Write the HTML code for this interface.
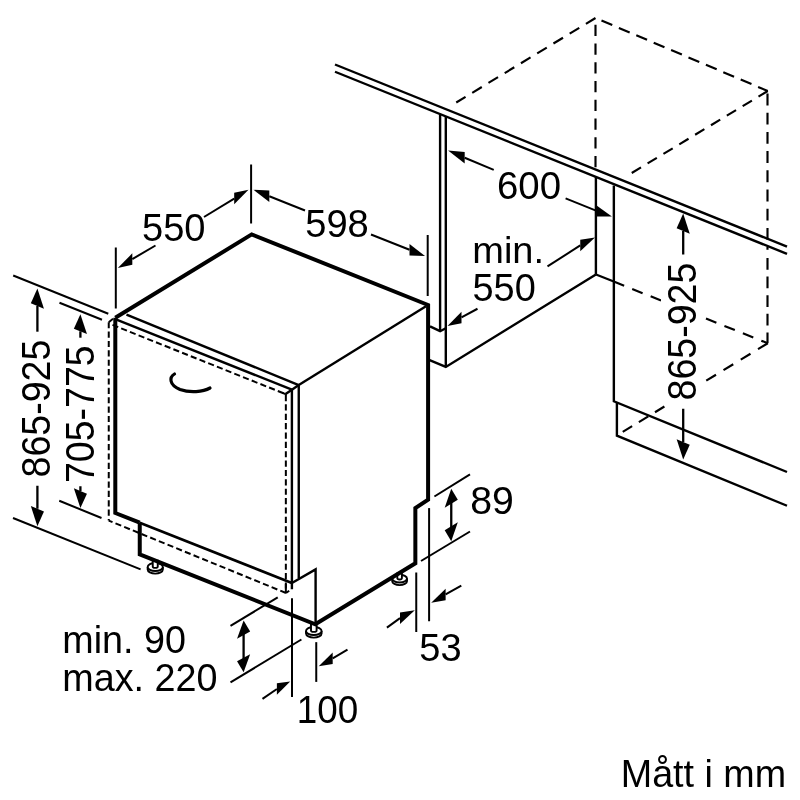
<!DOCTYPE html>
<html lang="sv"><head><meta charset="utf-8"><title>Mått i mm</title>
<style>
html,body{margin:0;padding:0;background:#fff;}
body{width:800px;height:800px;overflow:hidden;}
svg{display:block;will-change:transform;}
svg text{font-family:"Liberation Sans",sans-serif;fill:#000;stroke:none;}
</style></head><body>
<svg width="800" height="800" viewBox="0 0 800 800" stroke="#000" fill="none">
<rect x="0" y="0" width="800" height="800" fill="#fff" stroke="none"/>
<line x1="335" y1="64.5" x2="787" y2="246.6" stroke-width="2.4" stroke-linecap="butt"/>
<line x1="335" y1="71.75" x2="787" y2="253.9" stroke-width="2.4" stroke-linecap="butt"/>
<line x1="440.1" y1="114.5" x2="440.1" y2="331.2" stroke-width="2.4" stroke-linecap="butt"/>
<line x1="445.8" y1="117" x2="445.8" y2="366.9" stroke-width="2.4" stroke-linecap="butt"/>
<polyline points="430,326.4 440.1,331.2 445.8,328.2" fill="none" stroke-width="2.4" stroke-linejoin="miter"/>
<polyline points="429,359.8 445.8,366.9 595.9,274.5" fill="none" stroke-width="2.4" stroke-linejoin="miter"/>
<line x1="595.9" y1="177" x2="595.9" y2="274.5" stroke-width="2.4" stroke-linecap="butt"/>
<polyline points="613.85,185.5 613.85,401.25 787,472" fill="none" stroke-width="2.4" stroke-linejoin="miter"/>
<polyline points="616.9,402.5 616.9,435.6 787,505.75" fill="none" stroke-width="2.4" stroke-linejoin="miter"/>
<line x1="595.5" y1="18" x2="456.25" y2="102.5" stroke-width="2.15" stroke-dasharray="11.2 7.8" stroke-dashoffset="0"/>
<line x1="595.5" y1="18" x2="767.75" y2="91" stroke-width="2.15" stroke-dasharray="11.7 7.2" stroke-dashoffset="12.4"/>
<line x1="767.75" y1="91" x2="629.4" y2="174.4" stroke-width="2.15" stroke-dasharray="10.8 7.7" stroke-dashoffset="0"/>
<line x1="595.5" y1="18" x2="595.5" y2="169" stroke-width="2.15" stroke-dasharray="11.25 7.5" stroke-dashoffset="12"/>
<line x1="767.5" y1="93.5" x2="767.5" y2="249.75" stroke-width="2.15" stroke-dasharray="11.9 7.3" stroke-dashoffset="0"/>
<line x1="767.5" y1="258" x2="767.5" y2="343.25" stroke-width="2.15" stroke-dasharray="11.7 6.9" stroke-dashoffset="0"/>
<line x1="596" y1="274.5" x2="613.75" y2="281.6" stroke-width="2.15" stroke-linecap="butt"/>
<line x1="613.75" y1="281.6" x2="767.75" y2="343.25" stroke-width="2.15" stroke-dasharray="11.2 8.67" stroke-dashoffset="0"/>
<line x1="767.75" y1="343.25" x2="700" y2="384.5" stroke-width="2.15" stroke-dasharray="11.4 8.8" stroke-dashoffset="0"/>
<line x1="664.4" y1="406.5" x2="622.75" y2="431.9" stroke-width="2.15" stroke-dasharray="11 7.9" stroke-dashoffset="0"/>
<rect x="661" y="259" width="44" height="145" fill="#fff" stroke="none"/>
<path d="M147.65,567 v2.6 a7.6,4.0 0 0 0 15.2,0 v-2.6" fill="#fff" stroke-width="1.9"/>
<ellipse cx="155.25" cy="567" rx="7.6" ry="4.0" fill="#fff" stroke-width="1.9"/>
<path d="M152.75,559.8 V566.4 a2.5,1.5 0 0 0 5.0,0 V559.8" fill="#fff" stroke-width="1.9"/>
<path d="M306.0,631 v2.6 a7.8,4.0 0 0 0 15.6,0 v-2.6" fill="#fff" stroke-width="1.9"/>
<ellipse cx="313.8" cy="631" rx="7.8" ry="4.0" fill="#fff" stroke-width="1.9"/>
<path d="M311.0,623.8 V630.4 a2.8,1.5 0 0 0 5.6,0 V623.8" fill="#fff" stroke-width="1.9"/>
<path d="M392.20000000000005,578.6 v2.6 a7.4,3.9 0 0 0 14.8,0 v-2.6" fill="#fff" stroke-width="1.9"/>
<ellipse cx="399.6" cy="578.6" rx="7.4" ry="3.9" fill="#fff" stroke-width="1.9"/>
<path d="M397.3,572.6 V578.0 a2.3,1.5 0 0 0 4.6,0 V572.6" fill="#fff" stroke-width="1.9"/>
<polyline points="115.3,317.8 251.7,234.4 428.1,305 428.1,499.7 415.35,508.1 415.35,563.3 315.3,624.3 139.75,554.4 139.75,522.7" fill="none" stroke-width="4.0" stroke-linejoin="miter"/>
<polyline points="115.3,317.8 115.3,513 139.75,522.7" fill="none" stroke-width="4.0" stroke-linejoin="miter"/>
<line x1="139.75" y1="522.7" x2="291.9" y2="583" stroke-width="2.6" stroke-linecap="butt"/>
<line x1="126.5" y1="314.6" x2="298.75" y2="385.1" stroke-width="2.4" stroke-linecap="butt"/>
<line x1="116.5" y1="319.6" x2="291.9" y2="389.7" stroke-width="2.4" stroke-linecap="butt"/>
<line x1="291.9" y1="389.75" x2="298.75" y2="385" stroke-width="2.4" stroke-linecap="butt"/>
<line x1="298.75" y1="385" x2="426" y2="306.2" stroke-width="2.4" stroke-linecap="butt"/>
<line x1="298.75" y1="385" x2="298.75" y2="578" stroke-width="2.4" stroke-linecap="butt"/>
<line x1="291.9" y1="389.75" x2="291.9" y2="589.25" stroke-width="2.4" stroke-linecap="butt"/>
<polyline points="291.9,583 315.6,569.4 315.6,623" fill="none" stroke-width="2.4" stroke-linejoin="miter"/>
<line x1="112.5" y1="324.9" x2="285.6" y2="394.1" stroke-width="2.0" stroke-dasharray="6.15 3.22" stroke-linecap="butt"/>
<line x1="285.85" y1="395" x2="285.85" y2="593" stroke-width="2.0" stroke-dasharray="6.15 3.22" stroke-linecap="butt"/>
<line x1="285.85" y1="394.1" x2="285.85" y2="395.2" stroke-width="2.0" stroke-linecap="butt"/>
<line x1="285.85" y1="584" x2="285.85" y2="593" stroke-width="2.0" stroke-linecap="butt"/>
<line x1="108.75" y1="322.2" x2="108.75" y2="520.6" stroke-width="2.0" stroke-dasharray="6.15 3.22" stroke-linecap="butt"/>
<line x1="286" y1="593" x2="108.75" y2="520.6" stroke-width="2.0" stroke-dasharray="6.15 3.22" stroke-linecap="butt"/>
<line x1="108.75" y1="322.2" x2="113" y2="318.8" stroke-width="2.0" stroke-linecap="butt"/>
<line x1="285.6" y1="394.1" x2="291.9" y2="389.7" stroke-width="2.4" stroke-linecap="butt"/>
<line x1="282.5" y1="392.85" x2="285.6" y2="394.1" stroke-width="2.0" stroke-linecap="butt"/>
<line x1="286" y1="593" x2="289.2" y2="590.8" stroke-width="2.0" stroke-linecap="butt"/>
<path d="M174.5,374 C169.5,377 168.5,384.5 180,389.5 C190,393 203,392 210,388" fill="none" stroke-width="3.2" stroke-linecap="round"/>
<line x1="115.8" y1="247.5" x2="115.8" y2="308.5" stroke-width="2.0" stroke-linecap="butt"/>
<line x1="251.1" y1="164.5" x2="251.1" y2="223.5" stroke-width="2.0" stroke-linecap="butt"/>
<polygon points="117.8,268 132.3,253.33 132.3,264.83" fill="#000" stroke="none"/>
<line x1="132.3" y1="259.0825" x2="155.5" y2="245.5" stroke-width="2.0" stroke-linecap="butt"/>
<polygon points="248.5,189.8 234.2,192.84 234.2,204.34" fill="#000" stroke="none"/>
<line x1="234.2" y1="198.5945" x2="204" y2="217" stroke-width="2.0" stroke-linecap="butt"/>
<polygon points="253.5,189.8 269.3,190.45 269.3,201.95" fill="#000" stroke="none"/>
<line x1="269.3" y1="196.199" x2="305" y2="210.5" stroke-width="2.0" stroke-linecap="butt"/>
<polygon points="425,256 409.5,243.97 409.5,255.47" fill="#000" stroke="none"/>
<line x1="409.5" y1="249.7225" x2="371" y2="234.5" stroke-width="2.0" stroke-linecap="butt"/>
<line x1="427.7" y1="235" x2="427.7" y2="296" stroke-width="2.0" stroke-linecap="butt"/>
<polygon points="448.1,150.6 464.7,151.99 464.7,163.49" fill="#000" stroke="none"/>
<line x1="464.70000000000005" y1="157.738" x2="493.75" y2="169.9" stroke-width="2.0" stroke-linecap="butt"/>
<polygon points="611.9,216.5 595.9,216.5 595.9,205" fill="#000" stroke="none"/>
<line x1="596" y1="210.6" x2="565.6" y2="198.4" stroke-width="2.0" stroke-linecap="butt"/>
<polygon points="447.5,326 461.5,311.64 461.5,323.14" fill="#000" stroke="none"/>
<line x1="461.5" y1="317.39" x2="477.5" y2="308.75" stroke-width="2.0" stroke-linecap="butt"/>
<polygon points="595,237.5 580.25,239.72 580.25,251.22" fill="#000" stroke="none"/>
<line x1="580.25" y1="245.465" x2="547.5" y2="266.4" stroke-width="2.0" stroke-linecap="butt"/>
<polygon points="683.2,213.5 676.65,228.35 689.75,233.65" fill="#000" stroke="none"/>
<line x1="683.2" y1="231.0" x2="683.2" y2="254.5" stroke-width="2.3" stroke-linecap="butt"/>
<polygon points="683.2,459.5 676.65,439.35 689.75,444.65" fill="#000" stroke="none"/>
<line x1="683.2" y1="442.0" x2="683.2" y2="408.75" stroke-width="2.3" stroke-linecap="butt"/>
<line x1="13.2" y1="275.5" x2="108.3" y2="313.7" stroke-width="2.0" stroke-linecap="butt"/>
<line x1="13" y1="518" x2="140.6" y2="569.4" stroke-width="2.0" stroke-linecap="butt"/>
<polygon points="37.4,288.5 30.85,303.35 43.95,308.65" fill="#000" stroke="none"/>
<line x1="37.4" y1="306.0" x2="37.4" y2="331.7" stroke-width="2.3" stroke-linecap="butt"/>
<polygon points="37.4,526.25 30.85,506.1 43.95,511.4" fill="#000" stroke="none"/>
<line x1="37.4" y1="508.75" x2="37.4" y2="485.75" stroke-width="2.3" stroke-linecap="butt"/>
<line x1="59.5" y1="302.75" x2="102" y2="319.7" stroke-width="2.0" stroke-linecap="butt"/>
<line x1="59.25" y1="500.75" x2="101.5" y2="518" stroke-width="2.0" stroke-linecap="butt"/>
<polygon points="80.4,314.3 73.85,328.65 86.95,333.95" fill="#000" stroke="none"/>
<line x1="80.4" y1="331.3" x2="80.4" y2="337.7" stroke-width="2.3" stroke-linecap="butt"/>
<polygon points="80.4,508 73.85,488.35 86.95,493.65" fill="#000" stroke="none"/>
<line x1="80.4" y1="491" x2="80.4" y2="486.25" stroke-width="2.3" stroke-linecap="butt"/>
<line x1="434.4" y1="496.5" x2="470" y2="474.4" stroke-width="2.0" stroke-linecap="butt"/>
<line x1="421" y1="561" x2="470" y2="531.5" stroke-width="2.0" stroke-linecap="butt"/>
<polygon points="451.25,488.75 444.7,507.68 457.8,499.82" fill="#000" stroke="none"/>
<polygon points="451.25,541.25 444.7,530.18 457.8,522.32" fill="#000" stroke="none"/>
<line x1="451.25" y1="500" x2="451.25" y2="530" stroke-width="2.3" stroke-linecap="butt"/>
<line x1="429.1" y1="508.1" x2="429.1" y2="621.25" stroke-width="2.0" stroke-linecap="butt"/>
<line x1="416.25" y1="572.5" x2="416.25" y2="632" stroke-width="2.0" stroke-linecap="butt"/>
<polygon points="414.8,610.3 400.0,612.39 400.0,623.89" fill="#000" stroke="none"/>
<line x1="400.0" y1="618.144" x2="386.9" y2="627.6" stroke-width="2.0" stroke-linecap="butt"/>
<polygon points="431.2,602.8 445.6,588.7 445.6,600.2" fill="#000" stroke="none"/>
<line x1="445.59999999999997" y1="594.448" x2="461.3" y2="585.6" stroke-width="2.0" stroke-linecap="butt"/>
<line x1="292.0" y1="598.25" x2="292.0" y2="697" stroke-width="2.0" stroke-linecap="butt"/>
<line x1="316.25" y1="642.15" x2="316.25" y2="681.9" stroke-width="2.0" stroke-linecap="butt"/>
<polygon points="290.2,681.6 276.9,683.3 276.9,694.8" fill="#000" stroke="none"/>
<line x1="276.9" y1="689.048" x2="262.5" y2="698.9" stroke-width="2.0" stroke-linecap="butt"/>
<polygon points="318.7,666.2 332.7,652.61 332.7,664.11" fill="#000" stroke="none"/>
<line x1="332.7" y1="658.36" x2="347.5" y2="649.7" stroke-width="2.0" stroke-linecap="butt"/>
<line x1="230.5" y1="625.9" x2="277.75" y2="597.35" stroke-width="2.0" stroke-linecap="butt"/>
<line x1="230.5" y1="682.4" x2="301.4" y2="639.5" stroke-width="2.0" stroke-linecap="butt"/>
<polygon points="243.6,620.6 237.05,638.7 250.15,631.5" fill="#000" stroke="none"/>
<polygon points="243.6,672.25 237.05,661.35 250.15,654.15" fill="#000" stroke="none"/>
<line x1="243.6" y1="632" x2="243.6" y2="660" stroke-width="2.3" stroke-linecap="butt"/>
<text x="142.0" y="241.0" font-size="38.6" textLength="63.53" lengthAdjust="spacingAndGlyphs">550</text>
<text x="305.25" y="236.5" font-size="38.6" textLength="63.53" lengthAdjust="spacingAndGlyphs">598</text>
<text x="497.0" y="199.0" font-size="38.6" textLength="64.05" lengthAdjust="spacingAndGlyphs">600</text>
<text x="472.25" y="263.0" font-size="37.6" textLength="71.77" lengthAdjust="spacingAndGlyphs">min.</text>
<text x="472.5" y="301.0" font-size="38.6" textLength="63.26" lengthAdjust="spacingAndGlyphs">550</text>
<text x="470.25" y="513.75" font-size="38.6" textLength="43.64" lengthAdjust="spacingAndGlyphs">89</text>
<text x="419.25" y="661.25" font-size="38.6" textLength="42.31" lengthAdjust="spacingAndGlyphs">53</text>
<text x="296.75" y="723.0" font-size="38.6" textLength="61.45" lengthAdjust="spacingAndGlyphs">100</text>
<text x="62.25" y="653.0" font-size="38.1" textLength="123.67" lengthAdjust="spacingAndGlyphs">min. 90</text>
<text x="62.25" y="690.5" font-size="38.1" textLength="155.21" lengthAdjust="spacingAndGlyphs">max. 220</text>
<text x="620.75" y="786.5" font-size="38.3" textLength="165.41" lengthAdjust="spacingAndGlyphs">Mått i mm</text>
<text x="695.5" y="400.5" font-size="40" textLength="137.91" lengthAdjust="spacingAndGlyphs" transform="rotate(-90 695.5 400.5)">865-925</text>
<text x="49.5" y="477.5" font-size="40" textLength="137.91" lengthAdjust="spacingAndGlyphs" transform="rotate(-90 49.5 477.5)">865-925</text>
<text x="94.0" y="483.0" font-size="40" textLength="137.62" lengthAdjust="spacingAndGlyphs" transform="rotate(-90 94.0 483.0)">705-775</text>
</svg>
</body></html>
